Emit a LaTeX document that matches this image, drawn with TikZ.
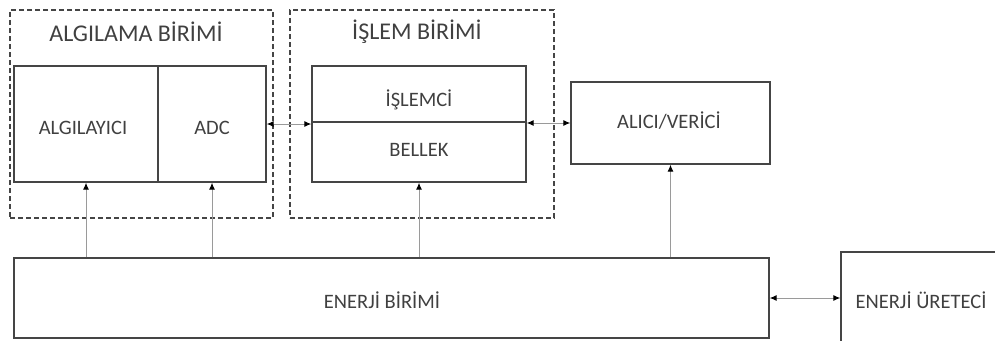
\documentclass[tikz,border=0pt]{standalone}
\usepackage{fontspec}
\setmainfont{Carlito}
\usetikzlibrary{arrows.meta}
\definecolor{boxc}{HTML}{454545}
\definecolor{arrc}{HTML}{9A9A9A}
\definecolor{txtc}{HTML}{404040}
\tikzset{
  box/.style={draw=boxc, line width=1.4pt, rectangle, inner sep=0pt},
  grp/.style={draw=boxc, line width=1.2pt, dash pattern=on 5pt off 3pt, rectangle, inner sep=0pt},
  lbl/.style={text=txtc, font=\fontsize{20.5}{22}\selectfont, inner sep=0pt},
  ttl/.style={text=txtc, font=\fontsize{24}{26}\selectfont, inner sep=0pt},
  arr/.style={draw=arrc, line width=1pt, -{Latex[length=7pt,width=6pt,color=black]}},
  arrb/.style={draw=arrc, line width=1pt, {Latex[length=7pt,width=6pt,color=black]}-{Latex[length=7pt,width=6pt,color=black]}}
}
\begin{document}
\begin{tikzpicture}[x=1pt,y=-1pt]
\useasboundingbox (0,0) rectangle (995,340);
% groups
\node[grp, minimum width=263pt, minimum height=208pt] (grpA) at (141.5,114) {};
\node[ttl] (ttlA) at (136,32) {ALGILAMA BİRİMİ};
\node[grp, minimum width=264pt, minimum height=208pt] (grpB) at (422,114) {};
\node[ttl] (ttlB) at (417,32) {İŞLEM BİRİMİ};
% boxes
\node[box, minimum width=144pt, minimum height=116pt] (sens) at (86,124) {};
\node[lbl] (sensT) at (83,128) {ALGILAYICI};
\node[box, minimum width=108pt, minimum height=116pt] (adc) at (212,124) {};
\node[lbl] (adcT) at (212,128) {ADC};
\node[box, minimum width=214pt, minimum height=56pt] (proc) at (419,94) {};
\node[lbl] (procT) at (419,100) {İŞLEMCİ};
\node[box, minimum width=214pt, minimum height=60pt] (mem) at (419,152) {};
\node[lbl] (memT) at (419,150) {BELLEK};
\node[box, minimum width=199pt, minimum height=82pt] (trx) at (670.5,123) {};
\node[lbl] (trxT) at (669,121) {ALICI/VERİCİ};
\node[box, minimum width=755pt, minimum height=80pt] (energy) at (391.5,298) {};
\node[lbl] (energyT) at (382,300) {ENERJİ BİRİMİ};
\node[box, minimum width=160pt, minimum height=96pt] (gen) at (921,300) {};
\node[lbl] (genT) at (921,300) {ENERJİ ÜRETECİ};
% connectors
\draw[arrb] (adc.east) -- (adc.east -| proc.west);
\draw[arrb] (trx.west -| proc.east) -- (trx.west);
\draw[arr] (sens.south |- energy.north) -- (sens.south);
\draw[arr] (adc.south |- energy.north) -- (adc.south);
\draw[arr] (mem.south |- energy.north) -- (mem.south);
\draw[arr] (trx.south |- energy.north) -- (trx.south);
\draw[arrb] (energy.east) -- (energy.east -| gen.west);
\end{tikzpicture}
\end{document}
